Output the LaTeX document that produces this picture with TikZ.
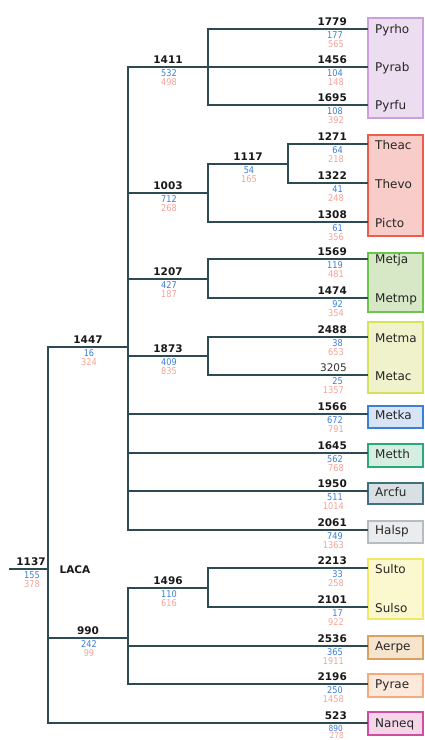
\documentclass[tikz,border=0pt]{standalone}
\usepackage{fontspec}
\setmainfont{DejaVu Sans}
\newfontfamily\numfont[FakeStretch=0.88]{DejaVu Sans}
\definecolor{linec}{HTML}{2E4A52}
\definecolor{haloc}{HTML}{F4B0A0}
\definecolor{bluec}{HTML}{3B7DD8}
\definecolor{redc}{HTML}{F37A6A}
\tikzset{
  br/.style={draw=linec, line width=1.2pt},
  halo/.style={draw=haloc, line width=2.9pt},
  bnum/.style={font=\bfseries\fontsize{10.5}{10.5}\selectfont, text=black!90, inner sep=0pt},
  rnum/.style={font=\fontsize{10.5}{10.5}\selectfont, text=black!80, inner sep=0pt},
  blnum/.style={font=\numfont\fontsize{9.3}{9.3}\selectfont, text=bluec, inner sep=0pt},
  rdnum/.style={font=\numfont\fontsize{9.3}{9.3}\selectfont, text=redc, text opacity=0.7, inner sep=0pt},
  smallnum/.style={font=\numfont\fontsize{8.4}{8.4}\selectfont},
  leafname/.style={font=\fontsize{12}{12}\selectfont, text=black!85, anchor=west, inner sep=0pt},
  grp/.style={line width=1.8pt},
}
\newcommand\alledges[1]{%
  \foreach \p/\c in {n1137/n1447, n1137/n990, n1137/LNaneq,
    n1447/n1411, n1447/n1003, n1447/n1207, n1447/n1873,
    n1447/LMetka, n1447/LMetth, n1447/LArcfu, n1447/LHalsp,
    n1411/LPyrho, n1411/LPyrab, n1411/LPyrfu,
    n1003/n1117, n1003/LPicto, n1117/LTheac, n1117/LThevo,
    n1207/LMetja, n1207/LMetmp, n1873/LMetma, n1873/LMetac,
    n990/n1496, n990/LAerpe, n990/LPyrae, n1496/LSulto, n1496/LSulso}{%
    \draw[#1] (\p) |- (\c);
  }%
  \draw[#1] (stub) -- (n1137);
}
\begin{document}
\begin{tikzpicture}[x=1pt,y=-1pt]
\clip (0,0) rectangle (425,740);
\fill[white] (0,0) rectangle (425,740);

% group boxes
\draw[grp, draw={rgb,255:red,205;green,160;blue,218}, fill={rgb,255:red,236;green,221;blue,240}] (368,18) rectangle (423,118);
\draw[grp, draw={rgb,255:red,238;green,92;blue,76}, fill={rgb,255:red,248;green,204;blue,200}] (368,135) rectangle (423,236);
\draw[grp, draw={rgb,255:red,108;green,196;blue,76}, fill={rgb,255:red,214;green,232;blue,198}] (368,253) rectangle (423,312);
\draw[grp, draw={rgb,255:red,214;green,226;blue,92}, fill={rgb,255:red,240;green,242;blue,204}] (368,322) rectangle (423,393);
\draw[grp, draw={rgb,255:red,58;green,128;blue,214}, fill={rgb,255:red,214;green,228;blue,246}] (368,406) rectangle (423,428);
\draw[grp, draw={rgb,255:red,42;green,168;blue,122}, fill={rgb,255:red,214;green,238;blue,226}] (368,444) rectangle (423,467);
\draw[grp, draw={rgb,255:red,66;green,112;blue,128}, fill={rgb,255:red,216;green,224;blue,228}] (368,483) rectangle (423,504);
\draw[grp, draw={rgb,255:red,180;green,190;blue,194}, fill={rgb,255:red,234;green,236;blue,238}] (368,521) rectangle (423,543);
\draw[grp, draw={rgb,255:red,240;green,232;blue,100}, fill={rgb,255:red,251;green,247;blue,206}] (368,559) rectangle (423,619);
\draw[grp, draw={rgb,255:red,218;green,162;blue,98}, fill={rgb,255:red,246;green,228;blue,204}] (368,636) rectangle (423,659);
\draw[grp, draw={rgb,255:red,245;green,170;blue,124}, fill={rgb,255:red,253;green,232;blue,220}] (368,674) rectangle (423,697);
\draw[grp, draw={rgb,255:red,208;green,76;blue,160}, fill={rgb,255:red,244;green,214;blue,232}] (368,712) rectangle (423,735);

% internal junctions
\coordinate (stub) at (9,569);
\coordinate (n1137) at (48,569);
\coordinate (n1447) at (128,347);
\coordinate (n990) at (128,638);
\coordinate (n1411) at (208,67);
\coordinate (n1003) at (208,193);
\coordinate (n1117) at (288,164);
\coordinate (n1207) at (208,279);
\coordinate (n1873) at (208,356);
\coordinate (n1496) at (208,588);

% leaves
\foreach \nm/\y in {Pyrho/29, Pyrab/67, Pyrfu/105, Theac/144, Thevo/183, Picto/222,
  Metja/259, Metmp/298, Metma/337, Metac/375, Metka/414, Metth/453, Arcfu/491,
  Halsp/530, Sulto/568, Sulso/607, Aerpe/646, Pyrae/684, Naneq/723}{%
  \coordinate (L\nm) at (368,\y);
  \node[leafname] (t\nm) at (375,\y+1) {\nm};
}

% branches: halo first, then dark lines
\alledges{halo}
\alledges{br}

% leaf branch labels
\foreach \nm/\y/\b/\u/\r in {Pyrho/29/1779/177/565, Pyrab/67/1456/104/148, Pyrfu/105/1695/108/392,
  Theac/144/1271/64/218, Thevo/183/1322/41/248, Picto/222/1308/61/356,
  Metja/259/1569/119/481, Metmp/298/1474/92/354, Metma/337/2488/38/653,
  Metka/414/1566/672/791, Metth/453/1645/562/768, Arcfu/491/1950/511/1014,
  Halsp/530/2061/749/1363, Sulto/568/2213/33/258, Sulso/607/2101/17/922,
  Aerpe/646/2536/365/1911, Pyrae/684/2196/250/1458}{%
  \node[bnum, anchor=south east] (b\nm) at (347,\y-3) {\b};
  \node[blnum, anchor=east] (u\nm) at (343,\y+6.5) {\u};
  \node[rdnum, anchor=east] (r\nm) at (344,\y+14.8) {\r};
}
\node[rnum, anchor=south east] (bMetac) at (347,375-3) {3205};
\node[blnum, anchor=east] (uMetac) at (343,375+6.5) {25};
\node[rdnum, anchor=east] (rMetac) at (344,375+14.8) {1357};
\node[bnum, anchor=south east] (bNaneq) at (347,723-3) {523};
\node[blnum, smallnum, anchor=east] (uNaneq) at (343,728.3) {890};
\node[rdnum, smallnum, anchor=east] (rNaneq) at (344,735.4) {278};

% internal node labels
\foreach \n/\x/\y/\b/\u/\r in {1411/168/67/1411/532/498, 1003/168/193/1003/712/268,
  1117/248/164/1117/54/165, 1207/168/279/1207/427/187, 1873/168/356/1873/409/835,
  1447/88/347/1447/16/324, 1496/168/588/1496/110/616, 990/88/638/990/242/99,
  1137/31/569/1137/155/378}{%
  \node[bnum, anchor=south] (lb\n) at (\x,\y-3) {\b};
  \node[blnum] (lu\n) at (\x+1,\y+6.5) {\u};
  \node[rdnum] (lr\n) at (\x+1,\y+14.8) {\r};
}
\node[bnum] (laca) at (75,570) {LACA};
\end{tikzpicture}
\end{document}
